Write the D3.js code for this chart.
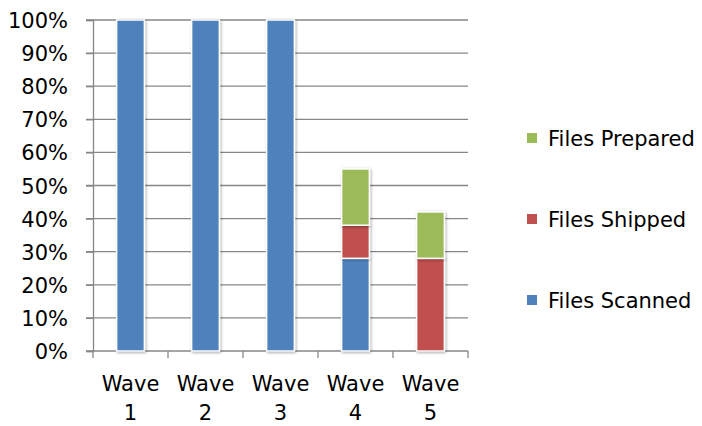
<!DOCTYPE html>
<html>
<head>
<meta charset="utf-8">
<script src="https://cdn.jsdelivr.net/npm/d3@7/dist/d3.min.js"></script>
<style>
  html, body { margin: 0; padding: 0; background: #fff; }
  svg { display: block; }
  text { font-family: "DejaVu Sans", "Liberation Sans", sans-serif; fill: #000; }
</style>
</head>
<body>
<svg id="chart" width="702" height="426"></svg>
<script>
// Share of files per wave, stacked (percent)
const waves = ["Wave 1", "Wave 2", "Wave 3", "Wave 4", "Wave 5"];
const filesScanned = [100, 100, 100, 28, 0];
const filesShipped = [0, 0, 0, 10, 28];
const filesPrepared = [0, 0, 0, 17, 14];
const seriesNames = ["Files Scanned", "Files Shipped", "Files Prepared"];
const seriesColors = ["#4f81bd", "#c0504d", "#9bbb59"];
const yTicks = [0, 10, 20, 30, 40, 50, 60, 70, 80, 90, 100];

const svg = d3.select("#chart");
const defs = svg.append("defs");
const f = defs.append("filter").attr("id", "shadow")
  .attr("x", "-30%").attr("y", "-10%").attr("width", "160%").attr("height", "120%");
f.append("feGaussianBlur").attr("in", "SourceAlpha").attr("stdDeviation", 1.6).attr("result", "b");
f.append("feOffset").attr("in", "b").attr("dx", 0.5).attr("dy", 0.5).attr("result", "o");
f.append("feComponentTransfer").attr("in", "o").attr("result", "s")
  .append("feFuncA").attr("type", "linear").attr("slope", 0.35);
const fm = f.append("feMerge");
fm.append("feMergeNode").attr("in", "s");
fm.append("feMergeNode").attr("in", "SourceGraphic");

const plotLeft = 93, plotRight = 468, plotTop = 20, plotBottom = 351;

const x = d3.scaleBand().domain(waves).range([plotLeft, plotRight]).paddingInner(0.63).paddingOuter(0.315);
const y = d3.scaleLinear().domain([0, 100]).range([plotBottom, plotTop]);

// Horizontal gridlines with small outside ticks on the value axis
const grid = svg.append("g");
grid.selectAll("line").data(yTicks.filter(d => d > 0)).join("line")
  .attr("x1", plotLeft - 7).attr("x2", plotRight)
  .attr("y1", d => y(d)).attr("y2", d => y(d))
  .attr("stroke", "#878787").attr("stroke-width", 1.3);

// Value axis
const yAxis = svg.append("g").attr("transform", `translate(${plotLeft},0)`)
  .call(d3.axisLeft(y).tickValues(yTicks).tickFormat(d => d + "%").tickSize(7).tickPadding(18));
yAxis.select(".domain").attr("stroke", "#878787").attr("stroke-width", 1.3);
yAxis.selectAll(".tick line").attr("stroke", "#878787").attr("stroke-width", 1.3);
yAxis.selectAll(".tick text").attr("font-size", 21).attr("fill", "#000").attr("dy", "0.36em")
  .style("font-family", "'DejaVu Sans', sans-serif");

// Category axis with boundary ticks between waves
const bx = svg.append("g");
bx.append("line").attr("x1", plotLeft - 7).attr("x2", plotRight).attr("y1", plotBottom).attr("y2", plotBottom)
  .attr("stroke", "#878787").attr("stroke-width", 1.3);
const step = x.step();
const bounds = d3.range(waves.length + 1).map(i => plotLeft + i * step);
bx.selectAll("line.tk").data(bounds).join("line").attr("class", "tk")
  .attr("x1", d => d).attr("x2", d => d).attr("y1", plotBottom).attr("y2", plotBottom + 7)
  .attr("stroke", "#878787").attr("stroke-width", 1.3);

const labels = bx.selectAll("text").data(waves).join("text")
  .attr("x", d => x(d) + x.bandwidth() / 2)
  .attr("text-anchor", "middle").attr("font-size", 21);
labels.each(function (d) {
  const parts = d.split(" ");
  const t = d3.select(this);
  t.append("tspan").attr("x", x(d) + x.bandwidth() / 2).attr("y", 391).text(parts[0]);
  t.append("tspan").attr("x", x(d) + x.bandwidth() / 2).attr("y", 420).text(parts[1]);
});

// Stacked bars
const rows = waves.map((w, i) => ({ wave: w, s0: filesScanned[i], s1: filesShipped[i], s2: filesPrepared[i] }));
const stack = d3.stack().keys(["s0", "s1", "s2"])(rows);
const bars = svg.append("g");
stack.forEach((layer, li) => {
  bars.append("g").selectAll("rect").data(layer.filter(d => d[1] - d[0] > 0)).join("rect")
    .attr("x", d => x(d.data.wave))
    .attr("y", d => y(d[1]))
    .attr("width", x.bandwidth())
    .attr("height", d => y(d[0]) - y(d[1]))
    .attr("fill", seriesColors[li])
    .attr("stroke", "#fff").attr("stroke-width", 1.5)
    .attr("filter", "url(#shadow)");
});

// Legend (top entry is the last series)
const legend = svg.append("g");
const order = [2, 1, 0];
const legendBase = [146, 227, 308];
order.forEach((si, k) => {
  legend.append("rect").attr("x", 527).attr("y", legendBase[k] - 13).attr("width", 10).attr("height", 10)
    .attr("fill", seriesColors[si]);
  legend.append("text").attr("x", 548).attr("y", legendBase[k])
    .attr("font-size", 21).text(seriesNames[si]);
});
</script>
</body>
</html>
